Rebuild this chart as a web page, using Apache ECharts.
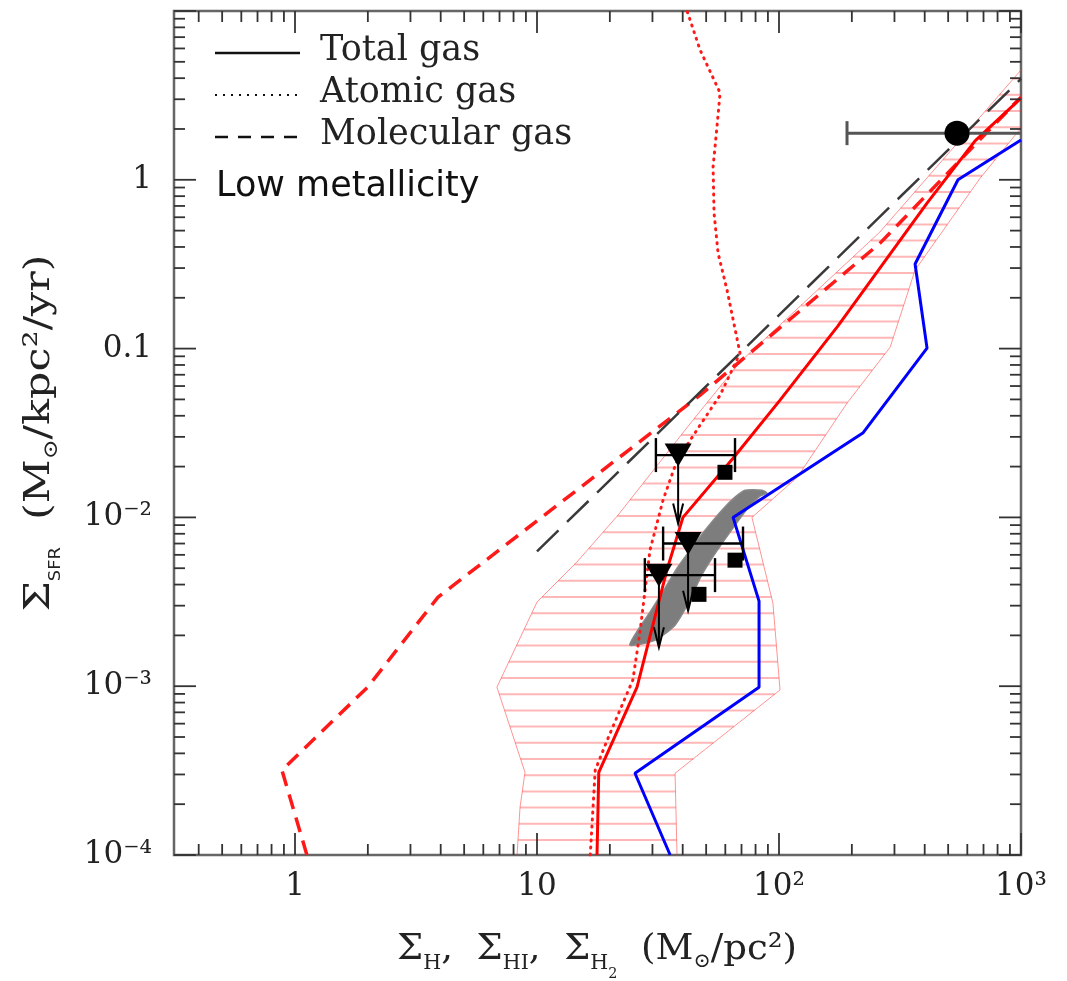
<!DOCTYPE html>
<html>
<head>
<meta charset="utf-8">
<script src="https://cdn.jsdelivr.net/npm/echarts@6/dist/echarts.min.js"></script>
<style>
  html, body { margin: 0; padding: 0; background: #ffffff; }
  #chart { width: 1067px; height: 981px; }
</style>
</head>
<body>
<div id="chart"></div>
<script>
// Axis ranges (log-log)
const X_MIN = Math.pow(10, -0.5);
const X_MAX = 1000;
const Y_MIN = 1e-4;
const Y_MAX = 10;

// Tick labels
const xTickValues = [1, 10, 100, 1000];
const xTickLabels = ['1', '10', '10²', '10³'];
const yTickValues = [1e-4, 1e-3, 1e-2, 0.1, 1];
const yTickLabels = ['10⁻⁴', '10⁻³', '10⁻²', '0.1', '1'];

// Model curves: [Sigma_gas, Sigma_SFR]
const totalGas = [[17.7, 1e-4], [18.0, 3.09e-4], [25.9, 9.87e-4], [34.4, 4.86e-3], [40.1, 1.0e-2],
  [64.6, 0.0224], [101, 0.0495], [175, 0.136], [409, 0.728], [646, 1.70], [1000, 3.05]];
const atomicGas = [[16.6, 1e-4], [17.4, 3.18e-4], [19.5, 4.79e-4], [22.0, 7.2e-4], [24.9, 1.09e-3],
  [26.6, 2.06e-3], [29.3, 6.4e-3], [33.2, 0.0127], [37.9, 0.0218], [47.2, 0.0352], [57.1, 0.053],
  [69.0, 0.094], [61.0, 0.222], [56.0, 0.368], [53.9, 0.635], [53.4, 1.19], [55.4, 2.05],
  [57.1, 3.27], [47.2, 5.88], [41.7, 10]];
const molecularGas = [[1.12, 1e-4], [0.883, 3.18e-4], [2.0, 9.9e-4], [3.9, 3.37e-3],
  [47.2, 0.053], [261, 0.42], [1000, 3.09]];
const kennicutt = [[10, 6.3e-3], [1000, 3.96]];
const blueModel = [[35.5, 1e-4], [25.4, 3.05e-4], [82.7, 9.87e-4], [82.7, 3.19e-3], [64.6, 0.01],
  [222, 0.0316], [409, 0.1007], [365, 0.317], [549, 1.0], [1000, 1.72]];

// Hatched scatter band: left and right boundaries
const bandLeft = [[8.27, 1e-4], [8.51, 1.92e-4], [8.92, 3.09e-4], [6.83, 9.87e-4], [10.0, 3.15e-3],
  [14.6, 5.43e-3], [21.6, 0.0103], [44.1, 0.0377], [69.0, 0.0832], [261, 0.49], [1000, 4.47]];
const bandRight = [[37.9, 1e-4], [37.2, 3.05e-4], [101, 9.5e-4], [94.4, 3.1e-3], [77.3, 0.01],
  [119, 0.0173], [191, 0.0475], [288, 0.102], [365, 0.292], [677, 1.02], [1000, 2.03]];

// Grey observed region outline
const grayRegion = [[24.2, 1.75e-3], [30.7, 1.87e-3], [37.2, 2.30e-3], [42.9, 3.24e-3], [47.2, 4.37e-3],
  [52.9, 5.74e-3], [61.5, 7.85e-3], [74.4, 0.01135], [83.4, 0.01337], [89.2, 0.01393], [85.1, 0.01449],
  [72.4, 0.01449], [65.8, 0.01318], [58.1, 0.01104], [49.5, 8.4e-3], [42.9, 6.4e-3], [37.9, 5.0e-3],
  [33.8, 3.81e-3], [29.3, 2.75e-3], [26.1, 2.15e-3]];

// Upper limits (downward triangles) with x error bars
const limitX = [38.3, 42.1, 31.9];
const limitY = [0.0234, 7.0e-3, 4.55e-3];
const limitXLo = [31.0, 33.2, 27.9];
const limitXHi = [65.8, 71.0, 54.4];
const limitArrowTo = [9.2e-3, 2.8e-3, 1.70e-3];

// Squares
const squareX = [59.8, 65.8, 46.7];
const squareY = [0.0185, 5.58e-3, 3.5e-3];

// Large filled circle with x error bar
const dotX = [544];
const dotY = [1.89];
const dotXLo = [191];
const dotXHi = [1550];

const SERIF = '"DejaVu Serif", "Liberation Serif", serif';
const SANS = '"DejaVu Sans", "Liberation Sans", sans-serif';
const INK = '#222';

const chart = echarts.init(document.getElementById('chart'), null, { renderer: 'canvas' });

// Text with sub/superscript pieces laid out along a baseline, stretched to a given length
const measureCtx = document.createElement('canvas').getContext('2d');
function textWidth(t, size, family) {
  measureCtx.font = size + 'px ' + family;
  return measureCtx.measureText(t).width;
}
function mathLabel(pieces, cx, cy, rotation, length) {
  const widths = pieces.map(p => textWidth(p.t, p.size, p.family));
  const total = widths.reduce((a, b) => a + b, 0);
  let x = -total / 2;
  const children = pieces.map((p, i) => {
    const el = { type: 'text', x: x, y: p.dy || 0, style: { text: p.t, fontSize: p.size, fontFamily: p.family, fill: INK,
      align: 'left', verticalAlign: 'middle', textAlign: 'left', textVerticalAlign: 'middle' } };
    x += widths[i];
    return el;
  });
  return { type: 'group', x: cx, y: cy, rotation: rotation, scaleX: length / total, scaleY: 1, z: 20, children };
}
const M = 36, S = 20, SS = 14;
const sub = (size, drop) => 0.35 * (M - size) + drop;

function renderBand(params, api) {
  const cs = params.coordSys;
  const L = bandLeft.map(p => api.coord(p));
  const R = bandRight.map(p => api.coord(p));
  const poly = L.concat(R.slice().reverse());
  const els = [];
  const bottom = cs.y + cs.height;
  for (let y = bottom - 15; y > cs.y; y -= 16.2) {
    const xs = [];
    for (let i = 0; i < poly.length; i++) {
      const a = poly[i], b = poly[(i + 1) % poly.length];
      if ((a[1] > y) !== (b[1] > y)) {
        xs.push(a[0] + (y - a[1]) * (b[0] - a[0]) / (b[1] - a[1]));
      }
    }
    xs.sort((p, q) => p - q);
    for (let k = 0; k + 1 < xs.length; k += 2) {
      els.push({ type: 'line', shape: { x1: xs[k], y1: y, x2: xs[k + 1], y2: y },
        style: { stroke: 'rgba(255,40,40,0.34)', lineWidth: 2 } });
    }
  }
  els.push({ type: 'polyline', shape: { points: L }, style: { stroke: 'rgba(255,60,60,0.55)', lineWidth: 1, fill: null } });
  els.push({ type: 'polyline', shape: { points: R }, style: { stroke: 'rgba(255,60,60,0.55)', lineWidth: 1, fill: null } });
  return { type: 'group', children: els };
}

function renderRegion(params, api) {
  const pts = grayRegion.map(p => api.coord(p));
  return { type: 'polygon', shape: { points: pts, smooth: 0.2 }, style: { fill: '#7d7d7d', stroke: '#888', lineWidth: 1.5 } };
}

function renderLimit(params, api) {
  const y = api.value(1);
  const p = api.coord([api.value(0), y]);
  const lo = api.coord([api.value(2), y]);
  const hi = api.coord([api.value(3), y]);
  const a = api.coord([api.value(0), api.value(4)]);
  const cap = 17;
  const st = () => ({ stroke: '#000', lineWidth: 2.4 });
  return { type: 'group', children: [
    { type: 'line', shape: { x1: lo[0], y1: p[1], x2: hi[0], y2: p[1] }, style: st() },
    { type: 'line', shape: { x1: lo[0], y1: p[1] - cap, x2: lo[0], y2: p[1] + cap }, style: st() },
    { type: 'line', shape: { x1: hi[0], y1: p[1] - cap, x2: hi[0], y2: p[1] + cap }, style: st() },
    { type: 'line', shape: { x1: p[0], y1: p[1], x2: a[0], y2: a[1] }, style: { stroke: '#000', lineWidth: 2 } },
    { type: 'polyline', shape: { points: [[a[0] - 5, a[1] - 20], [a[0], a[1]], [a[0] + 5, a[1] - 20]] },
      style: { stroke: '#000', lineWidth: 2, fill: null } }
  ] };
}

function renderDotBar(params, api) {
  const y = api.value(1);
  const p = api.coord([api.value(0), y]);
  const lo = api.coord([api.value(2), y]);
  const hi = api.coord([api.value(3), y]);
  const cap = 12;
  const st = () => ({ stroke: '#555', lineWidth: 3 });
  return { type: 'group', children: [
    { type: 'line', shape: { x1: lo[0], y1: p[1], x2: hi[0], y2: p[1] }, style: st() },
    { type: 'line', shape: { x1: lo[0], y1: p[1] - cap, x2: lo[0], y2: p[1] + cap }, style: st() },
    { type: 'line', shape: { x1: hi[0], y1: p[1] - cap, x2: hi[0], y2: p[1] + cap }, style: st() }
  ] };
}

function renderAxes(params, api) {
  const cs = params.coordSys;
  const left = cs.x, right = cs.x + cs.width, top = cs.y, bottom = cs.y + cs.height;
  const els = [];
  const tick = (x1, y1, x2, y2) => els.push({ type: 'line', shape: { x1, y1, x2, y2 }, style: { stroke: '#333', lineWidth: 1.8 } });
  for (let d = -1; d <= 3; d++) {
    for (let m = 1; m <= 9; m++) {
      const v = m * Math.pow(10, d);
      if (v < X_MIN * 0.999 || v > X_MAX * 1.001) continue;
      const x = api.coord([v, Y_MIN])[0];
      const len = m === 1 ? 22 : 11;
      tick(x, bottom, x, bottom - len);
      tick(x, top, x, top + len);
    }
  }
  for (let d = -4; d <= 1; d++) {
    for (let m = 1; m <= 9; m++) {
      const v = m * Math.pow(10, d);
      if (v < Y_MIN * 0.999 || v > Y_MAX * 1.001) continue;
      const y = api.coord([X_MIN, v])[1];
      const len = m === 1 ? 22 : 11;
      tick(left, y, left + len, y);
      tick(right, y, right - len, y);
    }
  }
  xTickValues.forEach((v, i) => {
    const x = api.coord([v, Y_MIN])[0];
    els.push({ type: 'text', x: x, y: bottom + 32, style: { text: xTickLabels[i], fontSize: 31, fontFamily: SERIF,
      fill: INK, align: 'center', verticalAlign: 'middle', textAlign: 'center', textVerticalAlign: 'middle' } });
  });
  yTickValues.forEach((v, i) => {
    const y = api.coord([X_MIN, v])[1];
    els.push({ type: 'text', x: left - 22, y: y, style: { text: yTickLabels[i], fontSize: 31, fontFamily: SERIF,
      fill: INK, align: 'right', verticalAlign: 'middle', textAlign: 'right', textVerticalAlign: 'middle' } });
  });
  return { type: 'group', children: els };
}

const lineSeries = (name, data, color, width, dash, z) => ({
  name, type: 'line', data, showSymbol: false, symbol: 'none', z, silent: true,
  lineStyle: { color, width, type: dash, cap: Array.isArray(dash) && dash[0] < 2 ? 'round' : 'butt', opacity: 1 }
});

const legendText = (text, y) => ({ type: 'text', x: 320, y, z: 20, style: { text, fontSize: 35, fontFamily: SERIF, fill: INK,
  align: 'left', verticalAlign: 'middle', textAlign: 'left', textVerticalAlign: 'middle' } });

const option = {
  animation: false,
  backgroundColor: '#ffffff',
  grid: { left: 174, top: 11, width: 847, height: 844, show: true, borderColor: '#666', borderWidth: 2.5, backgroundColor: 'transparent' },
  xAxis: { type: 'log', logBase: 10, min: X_MIN, max: X_MAX,
    axisLine: { show: false }, axisTick: { show: false }, axisLabel: { show: false }, splitLine: { show: false } },
  yAxis: { type: 'log', logBase: 10, min: Y_MIN, max: Y_MAX,
    axisLine: { show: false }, axisTick: { show: false }, axisLabel: { show: false }, splitLine: { show: false } },
  series: [
    { type: 'custom', name: 'band', data: [[1, 1]], renderItem: renderBand, z: 1, clip: true, silent: true },
    { type: 'custom', name: 'region', data: [[30, 3e-3]], renderItem: renderRegion, z: 2, clip: true, silent: true },
    lineSeries('Atomic gas', atomicGas, '#ff1a1a', 3, [1, 6], 3),
    lineSeries('Molecular gas', molecularGas, '#ff1a1a', 3.5, [15, 9], 3),
    lineSeries('Kennicutt', kennicutt, '#3a3a3a', 2.5, [30, 12], 3),
    lineSeries('Total gas', totalGas, '#ff0000', 3, 'solid', 4),
    lineSeries('Blue model', blueModel, '#0000ff', 3, 'solid', 4),
    { type: 'custom', name: 'limits', data: limitX.map((x, i) => [x, limitY[i], limitXLo[i], limitXHi[i], limitArrowTo[i]]),
      renderItem: renderLimit, z: 5, clip: true, silent: true },
    { type: 'custom', name: 'dotbar', data: dotX.map((x, i) => [x, dotY[i], dotXLo[i], dotXHi[i]]),
      renderItem: renderDotBar, z: 5, clip: true, silent: true },
    { type: 'scatter', name: 'limitsMark', data: limitX.map((x, i) => [x, limitY[i]]), symbol: 'triangle', symbolRotate: 180,
      symbolSize: [27, 23], itemStyle: { color: '#000', opacity: 1 }, z: 6, silent: true },
    { type: 'scatter', name: 'squares', data: squareX.map((x, i) => [x, squareY[i]]), symbol: 'rect',
      symbolSize: 15, itemStyle: { color: '#000', opacity: 1 }, z: 6, silent: true },
    { type: 'scatter', name: 'dot', data: dotX.map((x, i) => [x, dotY[i]]), symbol: 'circle',
      symbolSize: 25, itemStyle: { color: '#000', opacity: 1 }, z: 6, silent: true },
    { type: 'custom', name: 'axes', data: [[1, 1]], renderItem: renderAxes, z: 10, silent: true }
  ],
  graphic: [
    { type: 'line', shape: { x1: 215, y1: 53, x2: 300, y2: 53 }, style: { stroke: '#111', lineWidth: 2.5 }, z: 20 },
    { type: 'line', shape: { x1: 215, y1: 95, x2: 300, y2: 95 }, style: { stroke: '#111', lineWidth: 2, lineDash: [2, 6] }, z: 20 },
    { type: 'line', shape: { x1: 215, y1: 137, x2: 300, y2: 137 }, style: { stroke: '#111', lineWidth: 2.5, lineDash: [13, 10] }, z: 20 },
    legendText('Total gas', 51),
    legendText('Atomic gas', 93),
    legendText('Molecular gas', 135),
    { type: 'text', x: 216, y: 187, z: 20, style: { text: 'Low metallicity', fontSize: 35, fontFamily: SANS, fill: '#111',
      align: 'left', verticalAlign: 'middle', textAlign: 'left', textVerticalAlign: 'middle' } },
    // x-axis title
    mathLabel([
      { t: 'Σ', size: M, family: SERIF },
      { t: 'H', size: S, family: SERIF, dy: sub(S, 8) },
      { t: ',  Σ', size: M, family: SERIF },
      { t: 'HI', size: S, family: SERIF, dy: sub(S, 8) },
      { t: ',  Σ', size: M, family: SERIF },
      { t: 'H', size: S, family: SERIF, dy: sub(S, 8) },
      { t: '2', size: SS, family: SERIF, dy: sub(SS, 17) },
      { t: '  (M', size: M, family: SERIF },
      { t: '⊙', size: S, family: SERIF, dy: sub(S, 6) },
      { t: '/pc²)', size: M, family: SERIF }
    ], 597, 950, 0, 400),
    // y-axis title
    mathLabel([
      { t: 'Σ', size: M, family: SERIF },
      { t: 'SFR', size: 15, family: SANS, dy: sub(15, 9) },
      { t: '  (M', size: M, family: SERIF },
      { t: '⊙', size: S, family: SERIF, dy: sub(S, 6) },
      { t: '/kpc²/yr)', size: M, family: SERIF }
    ], 40, 433, Math.PI / 2, 357)
  ]
};

chart.setOption(option);
</script>
</body>
</html>
